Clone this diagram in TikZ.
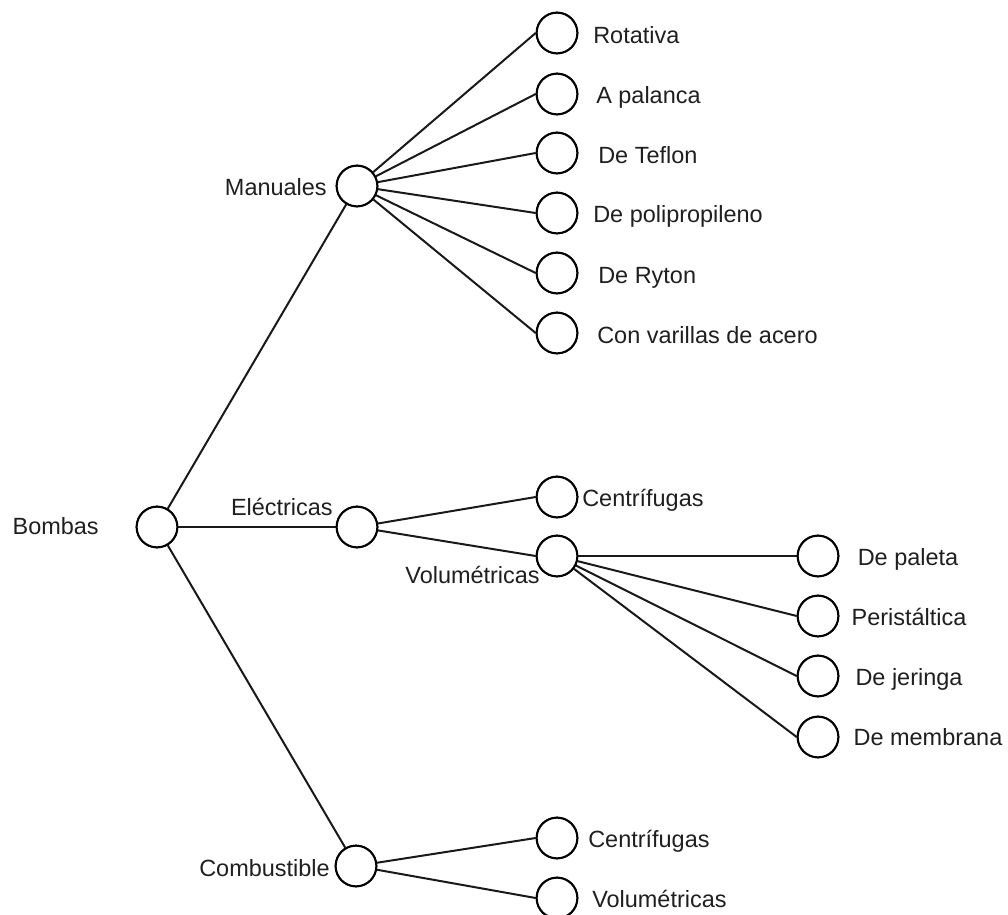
\documentclass[tikz,border=0pt]{standalone}
\usepackage{fontspec}
\setmainfont{Liberation Sans}
\begin{document}
\begin{tikzpicture}[x=0.75pt,y=-0.75pt,
  dot/.style={circle,draw,line width=1.5pt,minimum size=30.5pt,inner sep=0pt,fill=white},
  lbl/.style={inner sep=0pt,font=\fontsize{17.6}{21}\selectfont,text=black!88},
  link/.style={line width=1.5pt,black!90}]
\useasboundingbox (0,0) rectangle (1008,915);

% level 0 and 1
\node[dot] (bom) at (157,527) {};
\node[dot] (man) at (357,186) {};
\node[dot] (ele) at (357,527) {};
\node[dot] (com) at (356,866) {};

% children of Manuales
\node[dot] (rot) at (557,33) {};
\node[dot] (pal) at (557,94) {};
\node[dot] (tef) at (557,153) {};
\node[dot] (pol) at (557,213) {};
\node[dot] (ryt) at (557,273) {};
\node[dot] (var) at (557,333) {};

% children of Eléctricas
\node[dot] (ecen) at (557,497) {};
\node[dot] (evol) at (557,556) {};

% children of Volumétricas
\node[dot] (vpal) at (818,556) {};
\node[dot] (vper) at (818,616) {};
\node[dot] (vjer) at (818,676) {};
\node[dot] (vmem) at (818,737) {};

% children of Combustible
\node[dot] (ccen) at (557,838) {};
\node[dot] (cvol) at (557,898) {};

% connectors
\draw[link] (bom) -- (man);
\draw[link] (bom) -- (ele);
\draw[link] (bom) -- (com);
\foreach \c in {rot,pal,tef,pol,ryt,var} \draw[link] (man) -- (\c.west);
\draw[link] (ele) -- (ecen.west);
\draw[link] (ele) -- (evol.west);
\foreach \c in {vpal,vper,vjer,vmem} \draw[link] (evol) -- (\c.west);
\draw[link] (com) -- (ccen.west);
\draw[link] (com) -- (cvol.west);

% redraw circles over the connector ends
\foreach \c in {bom,man,ele,com,rot,pal,tef,pol,ryt,var,ecen,evol,vpal,vper,vjer,vmem,ccen,cvol}
  \node[dot] at (\c) {};

% labels
\node[lbl,anchor=base east] (tbom) at (99,534) {Bombas};
\node[lbl,anchor=base east] (tman) at (327,195) {Manuales};
\node[lbl,anchor=base east] (tele) at (333,515) {Eléctricas};
\node[lbl,anchor=base east] (tcom) at (330,876) {Combustible};

\node[lbl,anchor=base west] (trot) at (593,43) {Rotativa};
\node[lbl,anchor=base west] (tpal) at (596,103) {A palanca};
\node[lbl,anchor=base west] (ttef) at (598,163) {De Teflon};
\node[lbl,anchor=base west] (tpol) at (593,222) {De polipropileno};
\node[lbl,anchor=base west] (tryt) at (598,283) {De Ryton};
\node[lbl,anchor=base west] (tvar) at (597,343) {Con varillas de acero};

\node[lbl,anchor=base west] (tecen) at (582,506) {Centrífugas};
\node[lbl,anchor=base east] (tevol) at (540,583) {Volumétricas};

\node[lbl,anchor=base] (tvpal) at (908,565) {De paleta};
\node[lbl,anchor=base] (tvper) at (909,625) {Peristáltica};
\node[lbl,anchor=base] (tvjer) at (909,685) {De jeringa};
\node[lbl,anchor=base] (tvmem) at (928,745) {De membrana};

\node[lbl,anchor=base west] (tccen) at (588,847) {Centrífugas};
\node[lbl,anchor=base west] (tcvol) at (592,907) {Volumétricas};
\end{tikzpicture}
\end{document}
